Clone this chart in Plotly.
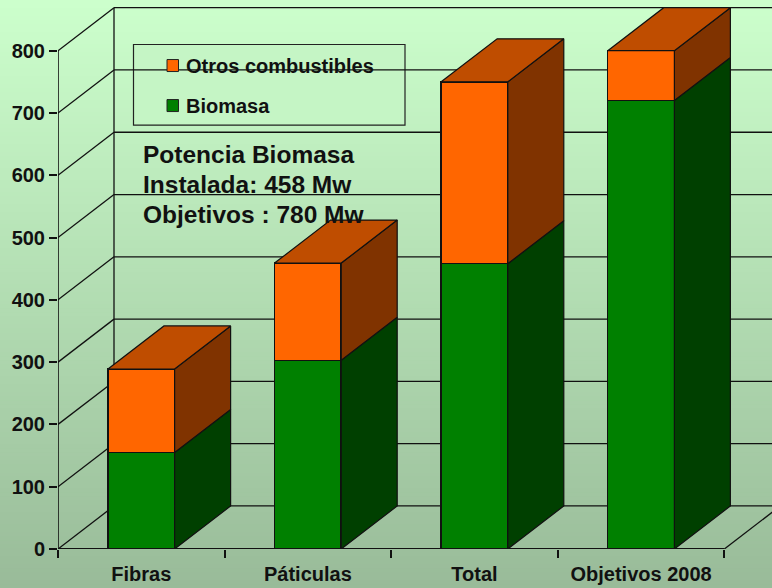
import plotly.graph_objects as go

categories = ["Fibras", "Páticulas", "Total", "Objetivos 2008"]
biomasa = [155, 303, 458, 720]
otros = [134, 156, 292, 80]
y_ticks = [0, 100, 200, 300, 400, 500, 600, 700, 800]
note_lines = ["Potencia Biomasa", "Instalada: 458 Mw", "Objetivos : 780 Mw"]

W, H = 772, 588
L, B = 58, 39.3
Y_MAX = 881.4
X_MAX = 4.286
BAR_W = 0.4
DX = 56 / 166.6
DY = 43 / 0.6225
INK = "#111111"
FONT = "Liberation Sans"

PW, PH = W - L, H - B


def px(x):
    return (x - L) / PW


def py(y):
    return (H - B - y) / PH


fig = go.Figure()
centers = [i + 0.5 for i in range(len(categories))]

fig.add_bar(x=centers, y=biomasa, width=BAR_W, name="Biomasa",
            marker=dict(color="#008000", line=dict(color=INK, width=1.5)))
fig.add_bar(x=centers, y=otros, width=BAR_W, name="Otros combustibles",
            marker=dict(color="#ff6600", line=dict(color=INK, width=1.5)))


def poly(xs, ys, fill):
    fig.add_scatter(x=xs + xs[:1], y=ys + ys[:1], mode="lines", fill="toself",
                    fillcolor=fill, line=dict(color=INK, width=1.2),
                    hoverinfo="skip", showlegend=False)


for c, b, o in zip(centers, biomasa, otros):
    r = c + BAR_W / 2
    l = c - BAR_W / 2
    t = b + o
    poly([r, r + DX, r + DX, r], [0, DY, b + DY, b], "#004000")
    poly([r, r + DX, r + DX, r], [b, b + DY, t + DY, t], "#803300")
    poly([l, r, r + DX, l + DX], [t, t, t + DY, t + DY], "#bf4d00")

shapes = []
# background gradient
N = 147
top = (204, 255, 204)
bot = (153, 187, 153)
for i in range(N):
    f = i / (N - 1)
    col = "rgb(%d,%d,%d)" % tuple(round(a + (b - a) * f) for a, b in zip(top, bot))
    shapes.append(dict(type="rect", xref="paper", yref="paper", layer="below",
                       x0=px(0), x1=px(W), y0=py(H), y1=py(i * H / N),
                       fillcolor=col, line=dict(width=0)))


def seg(x0, y0, x1, y1, w=1.3):
    shapes.append(dict(type="line", xref="x", yref="y", layer="below", x0=x0, y0=y0,
                       x1=x1, y1=y1, line=dict(color=INK, width=w)))


n = len(categories)
for v in y_ticks:
    seg(0, v, DX, v + DY)
    seg(DX, v + DY, n + DX, v + DY)
seg(DX, DY, DX, y_ticks[-1] + DY)
seg(n, 0, n + DX, DY)
seg(0, 0, 0, y_ticks[-1], 1.6)
seg(0, 0, n, 0, 2)

# legend box
shapes.append(dict(type="rect", xref="paper", yref="paper", layer="below",
                   x0=px(133.5), x1=px(405), y0=py(125), y1=py(44.5),
                   fillcolor="#c5f5c5", line=dict(color="#222222", width=1.2)))
for yc, col in [(65.5, "#ff6600"), (105.5, "#008000")]:
    shapes.append(dict(type="rect", xref="paper", yref="paper", layer="above",
                       x0=px(167), x1=px(178.5), y0=py(yc + 6), y1=py(yc - 6),
                       fillcolor=col, line=dict(color="#222222", width=1)))

ann = []
for yc, txt in [(65.5, "Otros combustibles"), (105.5, "Biomasa")]:
    ann.append(dict(xref="paper", yref="paper", x=px(183.5), y=py(yc), text="<b>%s</b>" % txt,
                    showarrow=False, xanchor="left", yanchor="middle",
                    font=dict(family=FONT, size=20, color=INK)))
for yc, txt in zip([154, 184, 214], note_lines):
    ann.append(dict(xref="paper", yref="paper", x=px(140.5), y=py(yc), text="<b>%s</b>" % txt,
                    showarrow=False, xanchor="left", yanchor="middle",
                    font=dict(family=FONT, size=24.5, color=INK)))

fig.update_layout(
    width=W, height=H, margin=dict(l=L, r=0, t=0, b=B, pad=0),
    paper_bgcolor="#ccffcc", plot_bgcolor="rgba(0,0,0,0)",
    barmode="stack", showlegend=False, shapes=shapes, annotations=ann,
    font=dict(family=FONT, color=INK),
    xaxis=dict(range=[0, X_MAX], tickmode="array", tickvals=centers,
               ticktext=["<b>%s</b>" % c for c in categories], ticks="", showgrid=False,
               zeroline=False, showline=False, tickfont=dict(size=20, family=FONT, color=INK),
               ticklabelstandoff=11,
               minor=dict(tickmode="array", tickvals=list(range(n + 1)), ticks="outside",
                          ticklen=8, tickwidth=1.5, tickcolor=INK, showgrid=False)),
    yaxis=dict(range=[0, Y_MAX], tickmode="array", tickvals=y_ticks,
               ticktext=["<b>%d</b>" % v for v in y_ticks], ticks="outside", ticklen=8,
               tickwidth=1.5, tickcolor=INK, showgrid=False, zeroline=False, showline=False,
               tickfont=dict(size=20, family=FONT, color=INK)),
)

fig.write_html("out.html", config={"displayModeBar": False},
               post_script="document.body.style.margin='0';document.documentElement.style.overflow='hidden';")
